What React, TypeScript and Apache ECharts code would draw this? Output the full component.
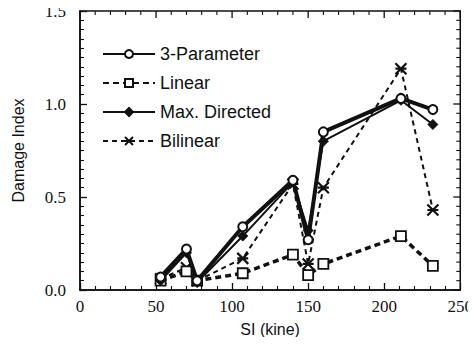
import React, { useEffect, useRef } from "react";
import * as echarts from "echarts";

const siValues = [53, 70, 77, 107, 140, 150, 160, 211, 232];
const threeParameter = [0.07, 0.22, 0.05, 0.34, 0.59, 0.27, 0.85, 1.03, 0.97];
const linear = [0.05, 0.1, 0.05, 0.09, 0.19, 0.08, 0.14, 0.29, 0.13];
const maxDirected = [0.05, 0.2, 0.04, 0.29, 0.58, 0.32, 0.8, 1.02, 0.89];
const bilinear = [0.06, 0.12, 0.05, 0.17, 0.57, 0.14, 0.55, 1.19, 0.43];
const xTicks = [0, 50, 100, 150, 200, 250];
const yTicks = [0, 0.5, 1.0, 1.5];
const X_MIN = 0, X_MAX = 250, X_MAJOR = 50, X_MINOR = 10;
const Y_MIN = 0, Y_MAX = 1.5, Y_MAJOR = 0.5, Y_MINOR = 0.05;

const pair = (ys: number[]) => siValues.map((x, i) => [x, ys[i]]);

export default function App() {
  const ref = useRef<HTMLDivElement>(null);
  useEffect(() => {
    if (!ref.current) return;
    const chart = echarts.init(ref.current, undefined, { renderer: "svg" });
    const serif = "Liberation Serif";
    const sans = "Liberation Sans";
    const axisLine = () => ({ show: true, onZero: false, lineStyle: { color: "#111", width: 1.5 } });
    const axisTick = () => ({ show: true, inside: true, length: 7, lineStyle: { color: "#111", width: 1.3 } });
    const minor = (n: number) => ({ show: true, splitNumber: n, length: 4, lineStyle: { color: "#111", width: 1.1 } });

    chart.setOption({
      animation: false,
      backgroundColor: "#fff",
      grid: { left: 80, right: 15, top: 11, bottom: 55, show: true, borderColor: "#111", borderWidth: 1.5 },
      legend: {
        orient: "vertical",
        left: 97,
        top: 40,
        itemWidth: 52,
        itemHeight: 10,
        itemGap: 11,
        textStyle: { fontFamily: sans, fontSize: 18, color: "#111" },
        data: ["3-Parameter", "Linear", "Max. Directed", "Bilinear"],
      },
      xAxis: {
        type: "value",
        min: X_MIN,
        max: X_MAX,
        interval: X_MAJOR,
        minorTick: minor(5),
        axisLine: axisLine(),
        axisTick: axisTick(),
        splitLine: { show: false },
        axisLabel: {
          margin: 8,
          fontFamily: serif,
          fontSize: 17,
          color: "#111",
          customValues: xTicks,
        },
        name: "SI (kine)",
        nameLocation: "middle",
        nameGap: 31,
        nameMoveOverlap: false,
        nameTextStyle: { fontFamily: sans, fontSize: 16, color: "#111" },
      },
      yAxis: {
        type: "value",
        min: Y_MIN,
        max: Y_MAX,
        interval: Y_MAJOR,
        minorTick: minor(10),
        axisLine: axisLine(),
        axisTick: axisTick(),
        splitLine: { show: false },
        axisLabel: {
          margin: 14,
          fontFamily: serif,
          fontSize: 17,
          color: "#111",
          customValues: yTicks,
          formatter: (v: number) => v.toFixed(1),
        },
        name: "Damage Index",
        nameLocation: "middle",
        nameGap: 54,
        nameMoveOverlap: false,
        nameTextStyle: { fontFamily: sans, fontSize: 16, color: "#111" },
      },
      series: [
        {
          name: "Bilinear",
          type: "line",
          data: pair(bilinear),
          symbol: "path://M0,0L10,10M10,0L0,10M0,5L10,5",
          symbolSize: 11,
          lineStyle: { color: "#111", width: 2, type: [5, 4] },
          itemStyle: { color: "#111", borderColor: "#111", borderWidth: 2.2 },
          z: 2,
        },
        {
          name: "Linear",
          type: "line",
          data: pair(linear),
          symbol: "rect",
          symbolSize: 10,
          lineStyle: { color: "#111", width: 3.5, type: [6, 4] },
          itemStyle: { color: "#fff", borderColor: "#111", borderWidth: 1.8 },
          z: 3,
        },
        {
          name: "Max. Directed",
          type: "line",
          data: pair(maxDirected),
          symbol: "diamond",
          symbolSize: 10,
          lineStyle: { color: "#111", width: 2 },
          itemStyle: { color: "#111", borderColor: "#111", borderWidth: 1 },
          z: 4,
        },
        {
          name: "3-Parameter",
          type: "line",
          data: pair(threeParameter),
          symbol: "circle",
          symbolSize: 9,
          lineStyle: { color: "#111", width: 4 },
          itemStyle: { color: "#fff", borderColor: "#111", borderWidth: 2 },
          z: 5,
        },
      ],
    });

    // Mirror ticks on the top and right edges, positioned through the chart's own scales.
    const ticks: any[] = [];
    const nx = Math.round((X_MAX - X_MIN) / X_MINOR);
    const xStep = Math.round(X_MAJOR / X_MINOR);
    for (let i = 0; i <= nx; i++) {
      const v = X_MIN + i * X_MINOR;
      const major = i % xStep === 0;
      const p = chart.convertToPixel({ gridIndex: 0 }, [v, Y_MAX]) as number[];
      if (!p) continue;
      ticks.push({
        type: "line",
        silent: true,
        z: 100,
        shape: { x1: p[0], y1: p[1], x2: p[0], y2: p[1] + (major ? 7 : 4) },
        style: { stroke: "#111", lineWidth: major ? 1.3 : 1.1 },
      });
    }
    const ny = Math.round((Y_MAX - Y_MIN) / Y_MINOR);
    const yStep = Math.round(Y_MAJOR / Y_MINOR);
    for (let i = 0; i <= ny; i++) {
      const v = Y_MIN + i * Y_MINOR;
      const major = i % yStep === 0;
      const p = chart.convertToPixel({ gridIndex: 0 }, [X_MAX, v]) as number[];
      if (!p) continue;
      ticks.push({
        type: "line",
        silent: true,
        z: 100,
        shape: { x1: p[0], y1: p[1], x2: p[0] - (major ? 7 : 4), y2: p[1] },
        style: { stroke: "#111", lineWidth: major ? 1.3 : 1.1 },
      });
    }
    chart.setOption({ graphic: { elements: ticks } });

    return () => chart.dispose();
  }, []);
  return <div ref={ref} style={{ width: 476, height: 345, margin: -8 }} />;
}
